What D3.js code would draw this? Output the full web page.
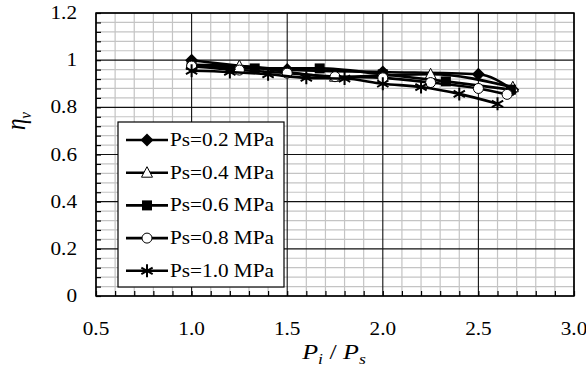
<!DOCTYPE html>
<html>
<head>
<meta charset="utf-8">
<script src="https://cdn.jsdelivr.net/npm/d3@7"></script>
<style>
  body { margin: 0; background: #fff; }
</style>
</head>
<body>
<div id="container"></div>
<script>
// data
var labels = ["Ps=0.2 MPa", "Ps=0.4 MPa", "Ps=0.6 MPa", "Ps=0.8 MPa", "Ps=1.0 MPa"];
var symbols = ["diamond", "triangle", "square", "circle", "star"];

var ps02x = [1.0, 1.5, 2.0, 2.5, 2.68];
var ps02y = [1.0, 0.96, 0.95, 0.94, 0.875];

var ps04x = [1.0, 1.25, 1.75, 2.25, 2.68];
var ps04y = [0.98, 0.975, 0.93, 0.94, 0.885];

var ps06x = [1.0, 1.33, 1.67, 2.0, 2.33, 2.67];
var ps06y = [0.98, 0.965, 0.965, 0.94, 0.91, 0.875];

var ps08x = [1.0, 1.25, 1.5, 1.75, 2.0, 2.25, 2.5, 2.65];
var ps08y = [0.975, 0.958, 0.945, 0.93, 0.925, 0.905, 0.88, 0.855];

var ps10x = [1.0, 1.2, 1.4, 1.6, 1.8, 2.0, 2.2, 2.4, 2.6];
var ps10y = [0.955, 0.95, 0.94, 0.925, 0.922, 0.90, 0.886, 0.857, 0.815];

var xTicks = [0.5, 1.0, 1.5, 2.0, 2.5, 3.0];
var yTicks = [0, 0.2, 0.4, 0.6, 0.8, 1.0, 1.2];

var seriesX = [ps02x, ps04x, ps06x, ps08x, ps10x];
var seriesY = [ps02y, ps04y, ps06y, ps08y, ps10y];

var FONT = "'Liberation Serif'";
var STRETCH = 1.18;   // the original picture is a bit wider than tall

var width = 586, height = 370;
var margin = {left: 96, top: 13, right: 12, bottom: 74};

var svg = d3.select("#container").append("svg")
    .attr("width", width)
    .attr("height", height);

var x = d3.scaleLinear().domain([0.5, 3.0]).range([margin.left, width - margin.right]);
var y = d3.scaleLinear().domain([0, 1.2]).range([height - margin.bottom, margin.top]);

// text helper, stretched horizontally like the source image
function label(parent, tx, ty, str, size, anchor) {
    return parent.append("text")
        .attr("transform", "translate(" + tx + "," + ty + ") scale(" + STRETCH + ",1)")
        .attr("text-anchor", anchor || "start")
        .style("font-family", FONT).style("font-size", size + "px")
        .text(str);
}

// minor grid
var xMinor = d3.range(0.6, 3.0, 0.1).filter(v => Math.abs(v * 2 - Math.round(v * 2)) > 1e-6);
var yMinor = d3.range(0.04, 1.2, 0.04).filter(v => Math.abs(v * 5 - Math.round(v * 5)) > 1e-6);

svg.append("g").selectAll("line").data(xMinor).enter().append("line")
    .attr("x1", d => x(d)).attr("x2", d => x(d))
    .attr("y1", y(0)).attr("y2", y(1.2))
    .attr("stroke", "#c4c4c4").attr("stroke-width", 1.2);
svg.append("g").selectAll("line").data(yMinor).enter().append("line")
    .attr("x1", x(0.5)).attr("x2", x(3.0))
    .attr("y1", d => y(d)).attr("y2", d => y(d))
    .attr("stroke", "#c4c4c4").attr("stroke-width", 1.2);

// major grid
svg.append("g").selectAll("line").data(xTicks).enter().append("line")
    .attr("x1", d => x(d)).attr("x2", d => x(d))
    .attr("y1", y(0)).attr("y2", y(1.2))
    .attr("stroke", "#111").attr("stroke-width", 1.1);
svg.append("g").selectAll("line").data(yTicks).enter().append("line")
    .attr("x1", x(0.5)).attr("x2", x(3.0))
    .attr("y1", d => y(d)).attr("y2", d => y(d))
    .attr("stroke", "#111").attr("stroke-width", 1.1);

// axes with inner minor ticks
var xAxis = d3.axisBottom(x).tickValues(d3.range(0.5, 3.01, 0.1)).tickSize(-5).tickFormat("");
svg.append("g").attr("transform", "translate(0," + y(0) + ")").call(xAxis)
    .call(g => g.select(".domain").remove())
    .selectAll("line").attr("stroke", "#000").attr("stroke-width", 1.2);
var yAxis = d3.axisLeft(y).tickValues(d3.range(0, 1.201, 0.04)).tickSize(-5).tickFormat("");
svg.append("g").attr("transform", "translate(" + x(0.5) + ",0)").call(yAxis)
    .call(g => g.select(".domain").remove())
    .selectAll("line").attr("stroke", "#000").attr("stroke-width", 1.2);

// tick labels
var xLab = svg.append("g");
xTicks.forEach(d => label(xLab, x(d), 335, d.toFixed(1), 18, "middle"));
var yLab = svg.append("g");
yTicks.forEach(d => label(yLab, 77, y(d) + 6, d, 18, "end"));

// plot border
svg.append("rect")
    .attr("x", x(0.5)).attr("y", y(1.2))
    .attr("width", x(3.0) - x(0.5)).attr("height", y(0) - y(1.2))
    .attr("fill", "none").attr("stroke", "#000").attr("stroke-width", 1.5);

// markers
function drawMarker(g, sym, cx, cy) {
    if (sym === "diamond") {
        g.append("path").attr("d", "M" + cx + "," + (cy - 6.5) + "L" + (cx + 6.5) + "," + cy + "L" + cx + "," + (cy + 6.5) + "L" + (cx - 6.5) + "," + cy + "Z")
            .attr("fill", "#000");
    } else if (sym === "triangle") {
        g.append("path").attr("d", "M" + cx + "," + (cy - 6) + "L" + (cx + 5.5) + "," + (cy + 4.5) + "L" + (cx - 5.5) + "," + (cy + 4.5) + "Z")
            .attr("fill", "#fff").attr("stroke", "#000").attr("stroke-width", 1);
    } else if (sym === "square") {
        g.append("rect").attr("x", cx - 5).attr("y", cy - 5).attr("width", 10).attr("height", 10)
            .attr("fill", "#000");
    } else if (sym === "circle") {
        g.append("circle").attr("cx", cx).attr("cy", cy).attr("r", 5)
            .attr("fill", "#fff").attr("stroke", "#000").attr("stroke-width", 1);
    } else {
        var r = 6.5;
        g.append("path")
            .attr("d", "M" + cx + "," + (cy - r) + "L" + cx + "," + (cy + r)
                + "M" + (cx - r * 0.87) + "," + (cy - r / 2) + "L" + (cx + r * 0.87) + "," + (cy + r / 2)
                + "M" + (cx - r * 0.87) + "," + (cy + r / 2) + "L" + (cx + r * 0.87) + "," + (cy - r / 2))
            .attr("stroke", "#000").attr("stroke-width", 2).attr("fill", "none");
    }
}

var line = d3.line().x(d => x(d[0])).y(d => y(d[1])).curve(d3.curveMonotoneX);

seriesX.forEach(function(xs, i) {
    var pts = xs.map((v, j) => [v, seriesY[i][j]]);
    var g = svg.append("g");
    g.append("path").datum(pts)
        .attr("d", line)
        .attr("fill", "none").attr("stroke", "#000").attr("stroke-width", 2.6);
    pts.forEach(p => drawMarker(g, symbols[i], x(p[0]), y(p[1])));
});

// legend
var legend = svg.append("g").attr("transform", "translate(118,122)");
legend.append("rect")
    .attr("width", 166).attr("height", 165)
    .attr("fill", "#fff").attr("stroke", "#000").attr("stroke-width", 1.2);
labels.forEach(function(lab, i) {
    var ly = 18 + i * 32.7;
    var row = legend.append("g");
    row.append("line").attr("x1", 8).attr("x2", 50).attr("y1", ly).attr("y2", ly)
        .attr("stroke", "#000").attr("stroke-width", 2.6);
    drawMarker(row, symbols[i], 29, ly);
    label(row, 52, ly + 6, lab, 18);
});

// axis titles
var xt = svg.append("text")
    .attr("transform", "translate(334,359) scale(" + STRETCH + ",1)")
    .attr("text-anchor", "middle")
    .style("font-family", FONT).style("font-size", "22px");
xt.append("tspan").style("font-style", "italic").text("P");
xt.append("tspan").style("font-style", "italic").style("font-size", "15px").attr("dy", 5).text("i");
xt.append("tspan").attr("dy", -5).text(" / ");
xt.append("tspan").style("font-style", "italic").text("P");
xt.append("tspan").style("font-style", "italic").style("font-size", "15px").attr("dy", 5).text("s");

var yt = svg.append("text")
    .attr("transform", "translate(25,121) scale(" + STRETCH + ",1) rotate(-90)")
    .attr("text-anchor", "middle")
    .style("font-family", FONT).style("font-size", "23px");
yt.append("tspan").style("font-style", "italic").text("η");
yt.append("tspan").style("font-style", "italic").style("font-size", "15px").attr("dy", 5).text("v");
</script>
</body>
</html>
